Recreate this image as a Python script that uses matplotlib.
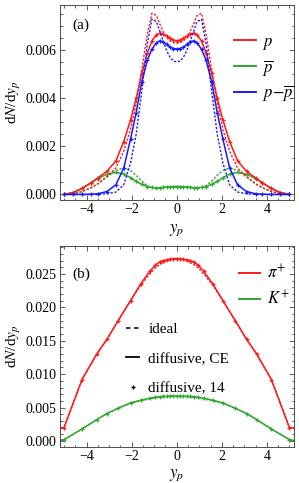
import numpy as np
import matplotlib
matplotlib.use("Agg")
import matplotlib.pyplot as plt
from matplotlib.lines import Line2D
from matplotlib.ticker import MultipleLocator, FormatStrFormatter

plt.rcParams['font.family'] = ['Liberation Serif', 'DejaVu Serif']
plt.rcParams['mathtext.fontset'] = 'stix'
plt.rcParams['font.size'] = 10

RED = '#ff1a1a'
GREEN = '#2ea82e'
BLUE = '#1a1aff'

# panel (a): protons, values in units of 1e-3
ya = [-5.0, -4.6, -4.2, -3.8, -3.5, -3.1, -2.7, -2.35, -2.05, -1.8, -1.55, -1.3, -1.1, -0.9,
      -0.75, -0.6, -0.45, -0.3, -0.15, 0.0, 0.15, 0.3, 0.45, 0.6, 0.75, 0.9, 1.1, 1.3,
      1.55, 1.8, 2.05, 2.35, 2.7, 3.1, 3.5, 3.8, 4.2, 4.6, 5.0]

p_ce = [0.00, 0.08, 0.25, 0.49, 0.69, 0.96, 1.40, 2.20, 3.10, 4.00, 5.05, 5.90, 6.40, 6.65,
        6.72, 6.68, 6.60, 6.50, 6.43, 6.40, 6.43, 6.50, 6.60, 6.68, 6.72, 6.65, 6.40, 5.90,
        5.05, 4.00, 3.10, 2.20, 1.40, 0.96, 0.69, 0.49, 0.25, 0.08, 0.00]
pbar_ce = [0.00, 0.08, 0.25, 0.48, 0.66, 0.84, 0.92, 0.85, 0.70, 0.54, 0.42, 0.33, 0.29, 0.28,
           0.28, 0.29, 0.31, 0.32, 0.33, 0.33, 0.33, 0.32, 0.31, 0.29, 0.28, 0.28, 0.29, 0.33,
           0.42, 0.54, 0.70, 0.85, 0.92, 0.84, 0.66, 0.48, 0.25, 0.08, 0.00]
net_ce = [0.00, 0.00, 0.00, 0.01, 0.03, 0.12, 0.40, 1.10, 2.30, 3.40, 4.70, 5.60, 6.05, 6.32,
          6.40, 6.36, 6.25, 6.14, 6.08, 6.06, 6.08, 6.14, 6.25, 6.36, 6.40, 6.32, 6.05, 5.60,
          4.70, 3.40, 2.30, 1.10, 0.40, 0.12, 0.03, 0.01, 0.00, 0.00, 0.00]

p_id = [0.00, 0.04, 0.12, 0.28, 0.45, 0.75, 1.10, 1.80, 2.70, 3.80, 5.20, 6.70, 7.55, 7.45,
        7.10, 6.80, 6.55, 6.40, 6.32, 6.30, 6.32, 6.40, 6.55, 6.80, 7.10, 7.45, 7.55, 6.70,
        5.20, 3.80, 2.70, 1.80, 1.10, 0.75, 0.45, 0.28, 0.12, 0.04, 0.00]
pbar_id = [0.00, 0.04, 0.12, 0.28, 0.43, 0.72, 1.00, 1.10, 1.00, 0.80, 0.55, 0.36, 0.28, 0.26,
           0.27, 0.30, 0.32, 0.32, 0.31, 0.30, 0.31, 0.32, 0.32, 0.30, 0.27, 0.26, 0.28, 0.36,
           0.55, 0.80, 1.00, 1.10, 1.00, 0.72, 0.43, 0.28, 0.12, 0.04, 0.00]
net_id = [0.00, 0.00, 0.00, 0.00, 0.00, 0.03, 0.10, 0.40, 1.30, 2.50, 4.30, 6.30, 7.30, 7.20,
          6.80, 6.40, 6.00, 5.72, 5.56, 5.52, 5.56, 5.72, 6.00, 6.40, 6.80, 7.20, 7.30, 6.30,
          4.30, 2.50, 1.30, 0.40, 0.10, 0.03, 0.00, 0.00, 0.00, 0.00, 0.00]

# panel (b): pions and kaons, values in units of 1e-3
yb = [-5.3, -5.0, -4.2, -3.55, -3.1, -2.6, -2.05, -1.6, -1.2, -0.95, -0.75, -0.6, -0.45, -0.3,
      -0.15, 0.0, 0.15, 0.3, 0.45, 0.6, 0.75, 0.95, 1.2, 1.6, 2.05, 2.6, 3.1, 3.55, 4.2, 5.0, 5.3]

pi_ce = [1.9, 2.0, 9.2, 13.0, 15.2, 18.0, 21.0, 23.5, 25.4, 26.3, 26.8, 27.0, 27.1, 27.2,
         27.25, 27.3, 27.25, 27.2, 27.1, 27.0, 26.8, 26.3, 25.4, 23.5, 21.0, 18.0, 15.2, 13.0,
         9.2, 2.0, 1.9]
pi_id = [1.9, 2.0, 9.2, 13.0, 15.2, 18.0, 21.0, 23.3, 25.0, 25.9, 26.4, 26.7, 26.95, 27.1,
         27.2, 27.25, 27.2, 27.1, 26.95, 26.7, 26.4, 25.9, 25.0, 23.3, 21.0, 18.0, 15.2, 13.0,
         9.2, 2.0, 1.9]
k_ce = [0.0, 0.2, 1.8, 3.2, 4.1, 4.9, 5.7, 6.1, 6.4, 6.55, 6.62, 6.66, 6.68, 6.70, 6.70, 6.70,
        6.70, 6.70, 6.68, 6.66, 6.62, 6.55, 6.4, 6.1, 5.7, 4.9, 4.1, 3.2, 1.8, 0.2, 0.0]
k_id = [0.0, 0.2, 1.8, 3.2, 4.1, 4.9, 5.65, 6.0, 6.3, 6.45, 6.55, 6.62, 6.66, 6.68, 6.70, 6.70,
        6.70, 6.68, 6.66, 6.62, 6.55, 6.45, 6.3, 6.0, 5.65, 4.9, 4.1, 3.2, 1.8, 0.2, 0.0]

DOT = (1.6, 1.2)


def style_axes(ax, ymaj, ymin_, ylim, xlab_y):
    ax.set_xlim(-5.2, 5.2)
    ax.set_ylim(*ylim)
    ax.xaxis.set_major_locator(MultipleLocator(2))
    ax.xaxis.set_minor_locator(MultipleLocator(0.5))
    ax.yaxis.set_major_locator(MultipleLocator(ymaj))
    ax.yaxis.set_minor_locator(MultipleLocator(ymin_))
    ax.yaxis.set_major_formatter(FormatStrFormatter('%.3f'))
    ax.tick_params(which='both', direction='in', top=True, right=True, width=0.6,
                   color='0.25', labelsize=10, pad=2)
    ax.tick_params(which='major', length=3.5)
    ax.tick_params(which='minor', length=1.8)
    for s in ax.spines.values():
        s.set_linewidth(0.7)
        s.set_color('0.3')
    ax.set_xlabel(r'$y_p$', fontsize=12)
    ax.set_ylabel(r'd$N$/d$y_p$', fontsize=11)
    ax.xaxis.set_label_coords(0.5, xlab_y)
    ax.yaxis.set_label_coords(-0.155, 0.5)


def draw(ax, x, ce, ideal, color):
    x = np.array(x)
    ax.plot(x, np.array(ideal) * 1e-3, color=color, lw=1.0, dashes=DOT)
    ax.plot(x, np.array(ce) * 1e-3, color=color, lw=1.1,
            marker='+', ms=3.5, mew=0.9)


fig = plt.figure(figsize=(2.99, 4.83), dpi=100)
axa = fig.add_axes([0.199, 0.586, 0.784, 0.404])
axb = fig.add_axes([0.199, 0.0745, 0.784, 0.4165])

draw(axa, ya, pbar_ce, pbar_id, GREEN)
draw(axa, ya, p_ce, p_id, RED)
draw(axa, ya, net_ce, net_id, BLUE)
style_axes(axa, 0.002, 0.0005, (-0.00023, 0.0079), -0.115)
axa.text(0.055, 0.895, '(a)', transform=axa.transAxes, fontsize=11, va='center')

hand_a = [Line2D([], [], color=c, lw=1.4) for c in (RED, GREEN, BLUE)]
axa.legend(hand_a, [r'$p$', r'$\overline{p}$', r'$p\!-\!\overline{p}$'],
           loc='upper left', bbox_to_anchor=(0.745, 0.85), frameon=False,
           fontsize=12, handlelength=1.3, handletextpad=0.4, labelspacing=0.35,
           borderpad=0, borderaxespad=0)

draw(axb, yb, k_ce, k_id, GREEN)
draw(axb, yb, pi_ce, pi_id, RED)
style_axes(axb, 0.005, 0.001, (-0.0009, 0.0292), -0.1)
axb.text(0.055, 0.86, '(b)', transform=axb.transAxes, fontsize=11, va='center')

hand_b = [Line2D([], [], color=c, lw=1.4) for c in (RED, GREEN)]
leg1 = axb.legend(hand_b, [r'$\pi^{+}$', r'$K^{+}$'], loc='upper left',
                  bbox_to_anchor=(0.765, 0.91), frameon=False, fontsize=12,
                  handlelength=1.3, handletextpad=0.4, labelspacing=0.45,
                  borderpad=0, borderaxespad=0)
axb.add_artist(leg1)

hand_s = [Line2D([], [], color='k', lw=1.1, dashes=(3.0, 2.2)),
          Line2D([], [], color='k', lw=1.3),
          Line2D([], [], color='k', lw=0, marker='+', ms=3.5, mew=1.0)]
axb.legend(hand_s, ['ideal', 'diffusive, CE', 'diffusive, 14'], loc='upper left',
           bbox_to_anchor=(0.285, 0.62), frameon=False, fontsize=11,
           handlelength=0.85, handletextpad=0.6, labelspacing=1.05,
           borderpad=0, borderaxespad=0)

fig.savefig('out.png', dpi=100)
